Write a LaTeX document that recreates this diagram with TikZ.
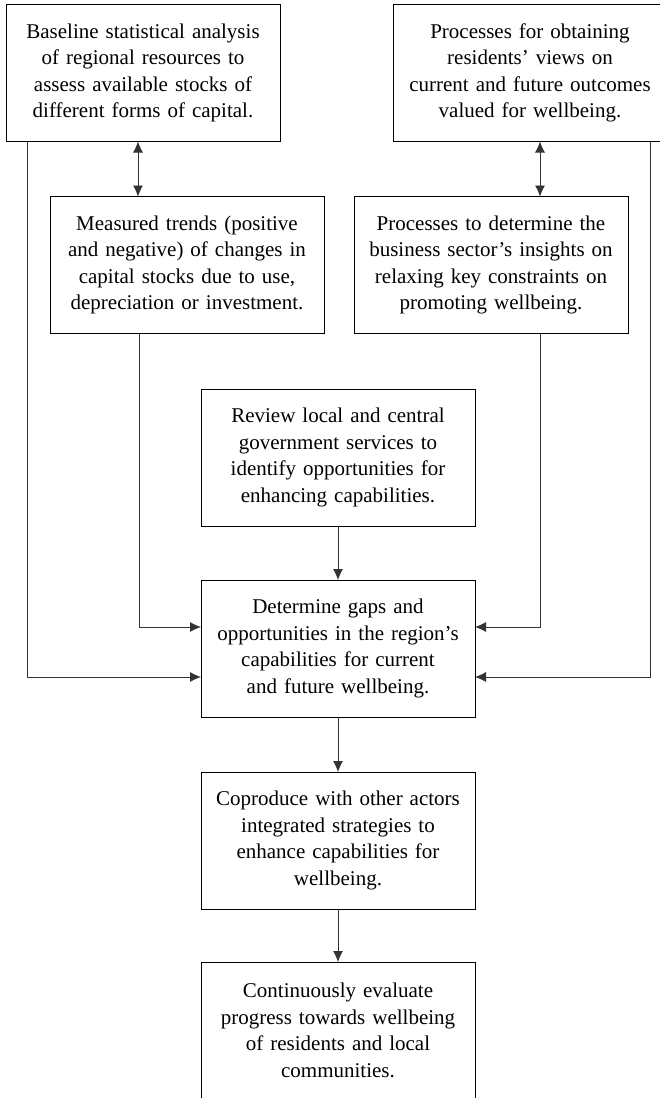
\documentclass[tikz,border=0pt]{standalone}
\usepackage{fontspec}
\setmainfont{Liberation Serif}
\usetikzlibrary{arrows.meta,positioning,calc}

\begin{document}
\begin{tikzpicture}[x=1pt,y=1pt,every node/.style={block},
  block/.style={draw,rectangle,line width=1pt,minimum width=274pt,minimum height=137pt,
    text width=266pt,align=center,inner sep=0pt,outer sep=0pt,
    font=\fontsize{21}{26.5}\selectfont},
  link/.style={line width=0.8pt,draw=black!80},
  arr/.style={-{Latex[length=11pt,width=10pt]}},
  both/.style={{Latex[length=11pt,width=10pt]}-{Latex[length=11pt,width=10pt]}},
  node distance=54pt]

  \useasboundingbox (0,0) rectangle (660,-1098);
  \clip (0,0) rectangle (660,-1098);

        \node (base) at (143,-73) {Baseline statistical analysis\\ of regional resources to\\ assess available stocks of\\ different forms of capital.};
        \node (views) at (530,-73) {Processes for obtaining\\ residents’ views on\\ current and future outcomes\\ valued for wellbeing.};

        \node (trends) [below = 55pt of base, xshift=44pt] {Measured trends (positive\\ and negative) of changes in\\ capital stocks due to use,\\ depreciation or investment.};
        \node (business) [below = 55pt of views, xshift=-39pt] {Processes to determine the\\ business sector’s insights on\\ relaxing key constraints on\\ promoting wellbeing.};

        \node (review) at (338,-457.5) {Review local and central\\ government services to\\ identify opportunities for\\ enhancing capabilities.};
        \node (gaps) [below = of review] {Determine gaps and\\ opportunities in the region’s\\ capabilities for current\\ and future wellbeing.};
        \node (coprod) [below = 55pt of gaps] {Coproduce with other actors\\ integrated strategies to\\ enhance capabilities for\\ wellbeing.};
        \node (evaluate) [below = 53pt of coprod] {Continuously evaluate\\ progress towards wellbeing\\ of residents and local\\ communities.};

        \draw[link,both] ([xshift=-5pt]base.south) -- ([xshift=-5pt]base.south |- trends.north);
        \draw[link,both] ([xshift=10pt]views.south) -- ([xshift=10pt]views.south |- business.north);

        \draw[link,arr] ([xshift=-48pt]trends.south) |- ([yshift=21.5pt]gaps.west);
        \draw[link,arr] ([xshift=21pt]base.south west) |- ([yshift=-28.5pt]gaps.west);
        \draw[link,arr] ([xshift=49pt]business.south) |- ([yshift=21.5pt]gaps.east);
        \draw[link,arr] ([xshift=-17pt]views.south east) |- ([yshift=-28.5pt]gaps.east);

        \draw[link,arr] (review) -- (gaps);
        \draw[link,arr] (gaps) -- (coprod);
        \draw[link,arr] (coprod) -- (evaluate);
      \end{tikzpicture}
\end{document}
